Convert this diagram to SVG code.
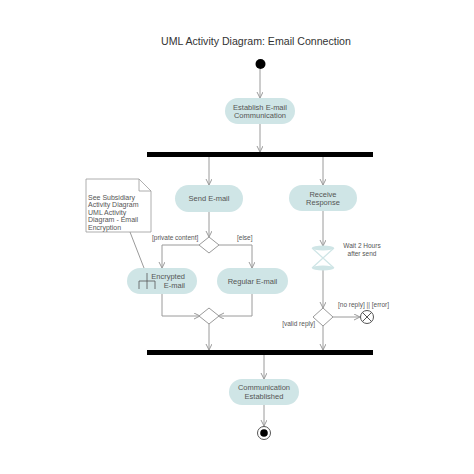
<svg xmlns="http://www.w3.org/2000/svg" width="474" height="474" viewBox="0 0 474 474">
<defs>
<style>
.node{fill:#cfe5e6;stroke:none}
.nt{font-family:"Liberation Sans",Arial,sans-serif;font-size:7.5px;fill:#555;text-anchor:middle}
.lbl{font-family:"Liberation Sans",Arial,sans-serif;font-size:6.5px;fill:#555}
.c{fill:none;stroke:#9a9a9a;stroke-width:1}
.bar{fill:#000}
.dia{fill:#fff;stroke:#9a9a9a;stroke-width:1}
</style>
<marker id="arr" markerWidth="8" markerHeight="8" refX="6" refY="3" orient="auto" markerUnits="userSpaceOnUse">
<path d="M0,0 L6,3 L0,6" fill="none" stroke="#9a9a9a" stroke-width="1"/>
</marker>
</defs>
<rect width="474" height="474" fill="#fff"/>
<text x="256" y="45" font-family="Liberation Sans,Arial,sans-serif" font-size="10.6" fill="#333" text-anchor="middle">UML Activity Diagram: Email Connection</text>

<g id="connectors">
<path class="c" d="M260,69 V98" marker-end="url(#arr)"/>
<path class="c" d="M260,124 V152" marker-end="url(#arr)"/>
<path class="c" d="M209,157 V185" marker-end="url(#arr)"/>
<path class="c" d="M323,157 V185" marker-end="url(#arr)"/>
<path class="c" d="M209,212 V237" marker-end="url(#arr)"/>
<path class="c" d="M199,245 H162 V268" marker-end="url(#arr)"/>
<path class="c" d="M219,245 H252 V268" marker-end="url(#arr)"/>
<path class="c" d="M162,294 V316 H200" marker-end="url(#arr)"/>
<path class="c" d="M252,294 V316 H218" marker-end="url(#arr)"/>
<path class="c" d="M209,324 V350" marker-end="url(#arr)"/>
<path class="c" d="M323,211 V246" marker-end="url(#arr)"/>
<path class="c" d="M323,270 V308" marker-end="url(#arr)"/>
<path class="c" d="M333,317 H360" marker-end="url(#arr)"/>
<path class="c" d="M323,326 V350" marker-end="url(#arr)"/>
<path class="c" d="M264,355 V379" marker-end="url(#arr)"/>
<path class="c" d="M264,405 V426" marker-end="url(#arr)"/>
<path class="c" d="M130,232 L144,268"/>
</g>

<g id="start"><circle cx="260.5" cy="64" r="5" fill="#000"/></g>

<g id="establish">
<rect class="node" x="225" y="98" width="70" height="26" rx="13"/>
<text class="nt" x="260" y="110">Establish E-mail</text>
<text class="nt" x="260" y="118">Communication</text>
</g>

<g id="fork1"><rect class="bar" x="147" y="152" width="226" height="5"/></g>

<g id="send">
<rect class="node" x="175" y="185" width="68" height="27" rx="13.5"/>
<text class="nt" x="209" y="201">Send E-mail</text>
</g>

<g id="receive">
<rect class="node" x="289" y="185" width="68" height="26" rx="13"/>
<text class="nt" x="323" y="197">Receive</text>
<text class="nt" x="323" y="205">Response</text>
</g>

<g id="note">
<path d="M86,179 H139 L151,191 V232 H86 Z" fill="#fff" stroke="#9a9a9a" stroke-width="0.8"/>
<path d="M139,179 V191 H151" fill="none" stroke="#9a9a9a" stroke-width="0.8"/>
<g class="lbl" style="font-size:7px">
<text x="88" y="199.5">See Subsidiary</text>
<text x="88" y="207">Activity Diagram</text>
<text x="88" y="214.5">UML Activity</text>
<text x="88" y="222">Diagram - Email</text>
<text x="88" y="229.5">Encryption</text>
</g>
</g>

<g id="decision1">
<path class="dia" d="M209,237 L219,245 L209,253 L199,245 Z"/>
<text class="lbl" x="152" y="240">[private content]</text>
<text class="lbl" x="237" y="240">[else]</text>
</g>

<g id="encrypted">
<rect class="node" x="127" y="268" width="70" height="26" rx="13"/>
<path d="M147,273 V289 M139,289 V281 H155 V289" fill="none" stroke="#555" stroke-width="0.8"/>
<text class="nt" x="185" y="279" style="text-anchor:end">Encrypted</text>
<text class="nt" x="185" y="288" style="text-anchor:end">E-mail</text>
</g>

<g id="regular">
<rect class="node" x="217" y="268" width="71" height="26" rx="13"/>
<text class="nt" x="252.5" y="284">Regular E-mail</text>
</g>

<g id="merge1"><path class="dia" d="M209,308 L219,316 L209,324 L199,316 Z"/></g>

<g id="wait">
<ellipse cx="323" cy="248" rx="11" ry="2.5" fill="#cfe5e6"/>
<ellipse cx="323" cy="268" rx="11" ry="2.5" fill="#cfe5e6"/>
<path d="M312,248 L334,268 M334,248 L312,268" stroke="#cfe5e6" stroke-width="1.2"/>
<text class="lbl" x="362" y="248" text-anchor="middle">Wait 2 Hours</text>
<text class="lbl" x="362" y="256" text-anchor="middle">after send</text>
</g>

<g id="decision2">
<path class="dia" d="M323,308 L333,317 L323,326 L313,317 Z"/>
<text class="lbl" x="338" y="307">[no reply] || [error]</text>
<text class="lbl" x="315" y="326" text-anchor="end">[valid reply]</text>
</g>

<g id="flowfinal">
<circle cx="367" cy="317" r="6.5" fill="#fff" stroke="#555" stroke-width="1"/>
<path d="M362.4,312.4 L371.6,321.6 M371.6,312.4 L362.4,321.6" stroke="#555" stroke-width="1"/>
</g>

<g id="join1"><rect class="bar" x="147" y="350" width="226" height="5"/></g>

<g id="established">
<rect class="node" x="229" y="379" width="70" height="26" rx="13"/>
<text class="nt" x="264" y="390">Communication</text>
<text class="nt" x="264" y="398.5">Established</text>
</g>

<g id="end">
<circle cx="264" cy="433" r="6.5" fill="#fff" stroke="#555" stroke-width="1"/>
<circle cx="264" cy="433" r="3.8" fill="#000"/>
</g>
</svg>
